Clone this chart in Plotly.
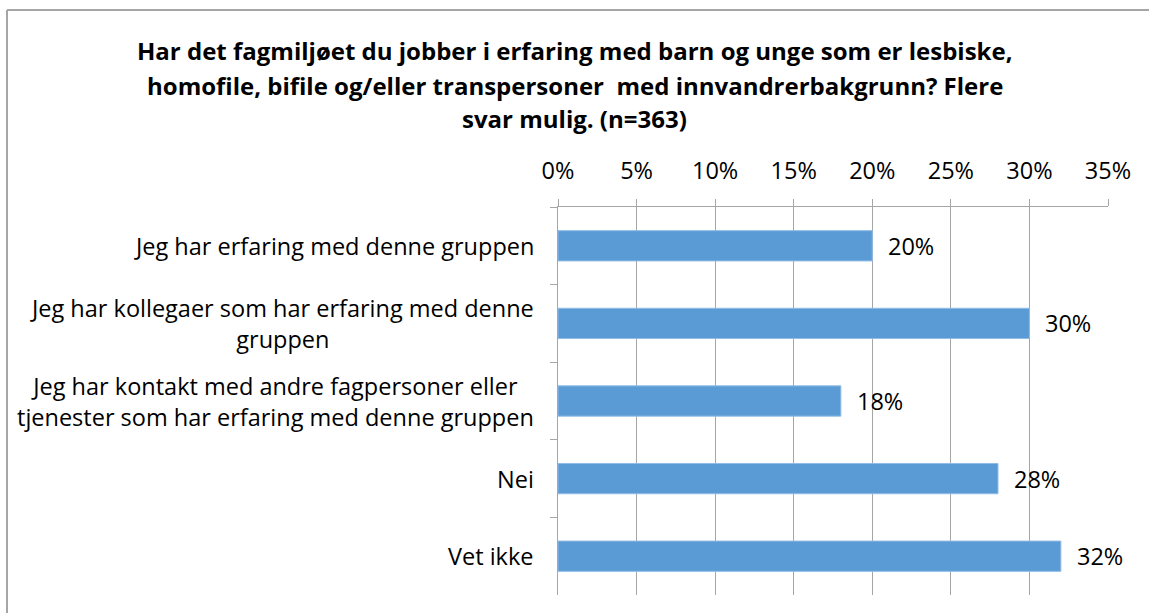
import plotly.graph_objects as go

categories = [
    "Jeg har erfaring med denne gruppen",
    "Jeg har kollegaer som har erfaring med denne<br>gruppen",
    "Jeg har kontakt med andre fagpersoner eller<br>tjenester som har erfaring med denne gruppen",
    "Nei",
    "Vet ikke",
]
values = [0.20, 0.30, 0.18, 0.28, 0.32]
value_labels = ["20%", "30%", "18%", "28%", "32%"]
title_lines = [
    "Har det fagmiljøet du jobber i erfaring med barn og unge som er lesbiske,",
    "homofile, bifile og/eller transpersoner  med innvandrerbakgrunn? Flere",
    "svar mulig. (n=363)",
]

FONT = "Open Sans"
FS = 23.5
TFS = 24
GRID = "#A6A6A6"
BAR = "#5B9BD5"

W, H = 1149, 613
L, R, T, B = 558, 41, 207, 18
PW = W - L - R
PH = H - T - B

fig = go.Figure()
fig.add_trace(go.Bar(
    y=categories, x=values, orientation="h",
    marker=dict(color=BAR, line=dict(color="#8FBCE6", width=1)),
    hoverinfo="skip",
))

annotations = []
for c, v, t in zip(categories, values, value_labels):
    annotations.append(dict(x=v, y=c, xref="x", yref="y", text=t, showarrow=False,
                            xanchor="left", yanchor="middle", xshift=14,
                            font=dict(family=FONT, size=FS, color="#000")))
for c in categories:
    annotations.append(dict(x=0, y=c, xref="paper", yref="y", text=c, showarrow=False,
                            xanchor="right", yanchor="middle", align="center",
                            xshift=-22,
                            font=dict(family=FONT, size=FS, color="#000")))
TY = [50, 85, 119]
for ln, y in zip(title_lines, TY):
    annotations.append(dict(x=(W / 2 - L) / PW, y=(H - B - y) / PH,
                            xref="paper", yref="paper", text="<b>" + ln + "</b>",
                            showarrow=False, xanchor="center", yanchor="middle",
                            font=dict(family=FONT, size=TFS, color="#000")))

bx0 = (7 - L) / PW
bx1 = (W - L) / PW
by0 = (-10 - B) / PH * -1 * -1
by_top = (H - B - 10) / PH
by_bot = (-B) / PH
border = dict(color="#A6A6A6", width=2)
shapes = [
    dict(type="line", xref="paper", yref="paper", x0=bx0, x1=bx1, y0=by_top, y1=by_top, line=border),
    dict(type="line", xref="paper", yref="paper", x0=bx0, x1=bx0, y0=by_top, y1=by_bot, line=border),
]

fig.update_layout(
    width=W, height=H,
    margin=dict(l=L, r=R, t=T, b=B, autoexpand=False),
    paper_bgcolor="white", plot_bgcolor="white",
    showlegend=False,
    bargap=0.61,
    font=dict(family=FONT, size=FS, color="#000"),
    xaxis=dict(side="top", range=[0, 0.35], dtick=0.05, tickformat=".0%",
               showgrid=True, gridcolor=GRID, gridwidth=1,
               showline=True, linecolor=GRID, linewidth=1,
               ticks="outside", ticklen=7, tickcolor=GRID,
               ticklabelstandoff=11, zeroline=False, fixedrange=True,
               tickfont=dict(family=FONT, size=FS, color="#000")),
    yaxis=dict(autorange="reversed", showticklabels=False, showgrid=False,
               showline=True, linecolor=GRID, linewidth=1,
               ticks="outside", ticklen=7, tickcolor=GRID, tickson="boundaries",
               zeroline=False, fixedrange=True),
    shapes=shapes,
    annotations=annotations,
)

fig.write_html("out.html", config={"displayModeBar": False},
               post_script="document.body.style.margin='0';document.body.style.overflow='hidden';")
